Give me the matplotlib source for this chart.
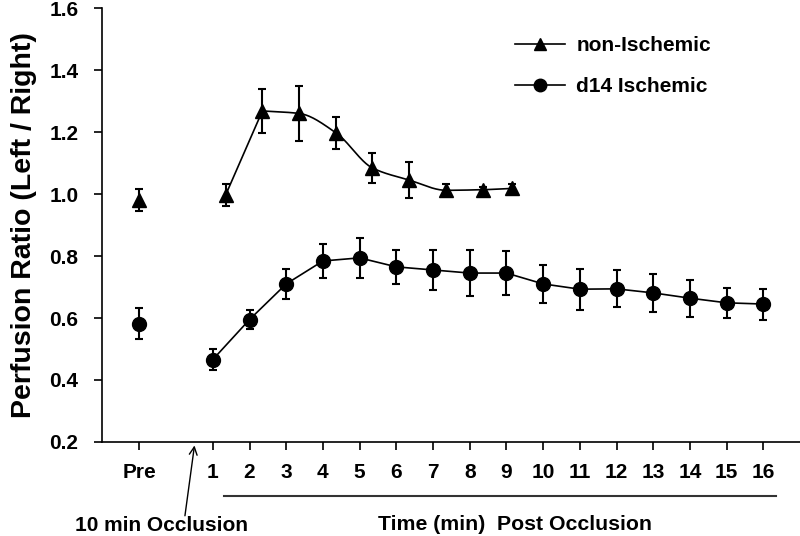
import numpy as np
import matplotlib
matplotlib.use("Agg")
import matplotlib.pyplot as plt
import matplotlib.transforms as mtransforms

plt.rcParams['font.family'] = ['Liberation Sans', 'DejaVu Sans']
plt.rcParams['font.weight'] = 'bold'

# x positions: Pre = -1, then minutes after occlusion
tick_pos = [-1] + list(range(1, 17))
tick_labels = ["Pre"] + [str(i) for i in range(1, 17)]

# non-Ischemic (triangles, drawn slightly right of the tick)
tri_pre_x = -1.0
tri_pre_y = 0.98
tri_pre_err = 0.036
tri_x = [1.35, 2.35, 3.35, 4.36, 5.35, 6.35, 7.36, 8.37, 9.15]
tri_y = [0.997, 1.268, 1.26, 1.197, 1.084, 1.045, 1.012, 1.014, 1.018]
tri_err = [0.035, 0.072, 0.088, 0.052, 0.047, 0.057, 0.02, 0.01, 0.015]

# d14 Ischemic (circles)
circ_pre_x = -1.0
circ_pre_y = 0.582
circ_pre_err = 0.051
circ_x = list(range(1, 17))
circ_y = [0.466, 0.595, 0.71, 0.784, 0.794, 0.765, 0.755, 0.745, 0.745,
          0.71, 0.693, 0.694, 0.681, 0.664, 0.649, 0.645]
circ_err = [0.035, 0.031, 0.049, 0.056, 0.065, 0.055, 0.065, 0.073, 0.071,
            0.061, 0.066, 0.06, 0.061, 0.06, 0.049, 0.05]


def pchip(x, y, n=40):
    # monotone cubic, only used to draw the smooth connecting line
    x = np.asarray(x, float)
    y = np.asarray(y, float)
    h = np.diff(x)
    d = np.diff(y) / h
    m = np.zeros_like(y)
    m[0], m[-1] = d[0], d[-1]
    for k in range(1, len(x) - 1):
        if d[k - 1] * d[k] <= 0:
            m[k] = 0
        else:
            w1 = 2 * h[k] + h[k - 1]
            w2 = h[k] + 2 * h[k - 1]
            m[k] = (w1 + w2) / (w1 / d[k - 1] + w2 / d[k])
    xs, ys = [], []
    for k in range(len(x) - 1):
        t = np.linspace(0, 1, n)
        h00 = 2 * t**3 - 3 * t**2 + 1
        h10 = t**3 - 2 * t**2 + t
        h01 = -2 * t**3 + 3 * t**2
        h11 = t**3 - t**2
        xs.append(x[k] + t * h[k])
        ys.append(h00 * y[k] + h10 * h[k] * m[k] + h01 * y[k + 1] + h11 * h[k] * m[k + 1])
    return np.concatenate(xs), np.concatenate(ys)


fig = plt.figure(figsize=(8, 5.36), dpi=100)
ax = fig.add_axes([0.1275, 0.1754, 0.8725, 0.8096])

eb = dict(fmt='none', ecolor='black', elinewidth=1.5, capsize=3, capthick=1.5)

# non-Ischemic: straight rise 1->2, smooth curve afterwards
ax.plot(tri_x[:2], tri_y[:2], color='black', lw=1.2)
sx, sy = pchip(tri_x[1:], tri_y[1:])
ax.plot(sx, sy, color='black', lw=1.2)
ax.errorbar(tri_x, tri_y, yerr=tri_err, **eb)
ax.errorbar([tri_pre_x], [tri_pre_y], yerr=[tri_pre_err], **eb)
ax.plot(tri_x, tri_y, '^', color='black', ms=10, zorder=3)
ax.plot([tri_pre_x], [tri_pre_y], '^', color='black', ms=10, zorder=3)

# d14 Ischemic
ax.plot(circ_x, circ_y, color='black', lw=1.2)
ax.errorbar(circ_x, circ_y, yerr=circ_err, **eb)
ax.errorbar([circ_pre_x], [circ_pre_y], yerr=[circ_pre_err], **eb)
ax.plot(circ_x, circ_y, 'o', color='black', ms=10, zorder=3)
ax.plot([circ_pre_x], [circ_pre_y], 'o', color='black', ms=10, zorder=3)

# legend
h1, = ax.plot([], [], '-^', color='black', ms=9, lw=1.2, label='non-Ischemic')
h2, = ax.plot([], [], '-o', color='black', ms=9, lw=1.2, label='d14 Ischemic')
ax.legend(handles=[h1, h2], loc='upper left', bbox_to_anchor=(515 / 800, 1 - 36 / 536),
          bbox_transform=fig.transFigure, frameon=False, borderpad=0, borderaxespad=0,
          handlelength=2.4, handletextpad=0.55, labelspacing=1.05,
          prop={'weight': 'bold', 'size': 15})

ax.set_xlim(-2.02, 17.0)
ax.set_ylim(0.2, 1.6)
yt = np.arange(0.2, 1.61, 0.2)
ax.set_yticks(yt)
ax.set_yticklabels([f"{v:.1f}" for v in yt], fontsize=15, fontweight='bold')
ax.set_xticks(tick_pos)
ax.set_xticklabels(tick_labels, fontsize=15, fontweight='bold')
ax.tick_params(axis='x', length=6, width=1.2, pad=9)
ax.tick_params(axis='y', length=6, width=1.2, pad=11)
for s in ['top', 'right']:
    ax.spines[s].set_visible(False)
for s in ['left', 'bottom']:
    ax.spines[s].set_linewidth(1.2)

ax.set_ylabel("Perfusion Ratio (Left / Right)", fontsize=20.5, fontweight='bold', labelpad=9)

trans = mtransforms.blended_transform_factory(ax.transData, ax.transAxes)
ax.plot([1.3, 16.35], [-0.124, -0.124], color='#333333', lw=1.5, transform=trans, clip_on=False)
ax.text(9.23, -0.19, "Time (min)  Post Occlusion", transform=trans, ha='center', va='center',
        fontsize=15.3, fontweight='bold')
ax.annotate("", xy=(0.5, -0.008), xycoords=trans, xytext=(0.24, -0.17), textcoords=trans,
            arrowprops=dict(arrowstyle='->', color='black', lw=1.0, mutation_scale=14,
                            shrinkA=0, shrinkB=0))
ax.text(-0.4, -0.192, "10 min Occlusion", transform=trans, ha='center', va='center',
        fontsize=15, fontweight='bold')

fig.savefig("out.png", dpi=100)
